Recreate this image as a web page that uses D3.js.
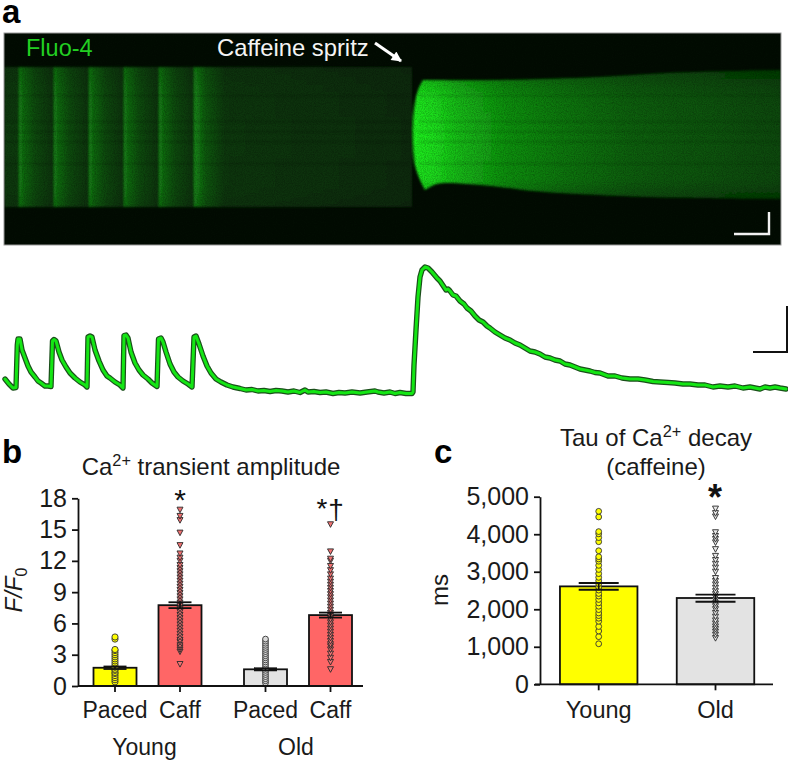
<!DOCTYPE html>
<html><head><meta charset="utf-8">
<script src="https://cdn.jsdelivr.net/npm/d3@7"></script>
<style>html,body{margin:0;padding:0;background:#fff}svg{display:block}text{font-family:"Liberation Sans",Arial,sans-serif;fill:#1a1a1a}</style>
</head><body><svg id="c" width="788" height="761"></svg>
<script>
// ---- panel a: trace (frames, fluorescence amplitude in arbitrary units)
const traceFrame=[1,5,9,12,13.3,14,16,18,21,24,27,31,34,37,41,44,47,48.5,50,52,55,58,62,66,71,76,81,83,84,86,88,91,95,99,103,106,111,116,119,120,122,124,127,131,135,139,144,148,153,154.5,157,159,162,166,170,174,179,184,188,190,192,195,199,203,207,212,217,223,229,
236,242,248,254,260,266,272,278,284,290,296,301,304,310,316,322,329,335,341,348,356,363,371,374,380,386,391,396,402,408,
409,410,412,414,416,418,421,424,428,433,436,438,442,444,446,449,452,456,460,463,467,471,475,479,483,486,491,496,501,506,511,516,521,526,531,536,541,546,551,556,561,566,571,576,581,586,591,596,604,611,618,626,634,641,649,656,664,671,679,686,694,701,709,716,724,731,739,746,751,756,761,766,771,776,782];
const traceAmp=[16,11,7,7.5,50,56,56,45,37,29,23,18,14,12,9,9,8.5,54,55.5,54,43,35,28,22,17,13,10,8,58,59,58,45,34,25,19,17,13,10,7,59.5,60,57,43,32,25,20,16,12,8.5,56,57,53,43,31,23,18,14,11,8,58,59,51,39,29,22,16,13,10,8,
6.5,5,5.5,4,4.5,3.5,4.5,4,3,4,2.5,5,3,3.5,2.5,3,1.5,2.5,2,3,2,3,4,3,2,3,1.5,2.5,1.5,1.5,
3,30,65,98,118,125,128,127,123,117,114,111,105,106,104,100,99,94,91,87,84,79,75,73,69,67,63,60,57,55,52,50,47,44,43,41,38,37,35,34,31,30,28,26,25,24,22.5,22,19,19,17,16,16,15,13.5,13,12.5,12,11,11,10,10,8,9,8,9,7,8,7,6,8,7,8,7,6];
// fibre shape in line-scan image (frame, position along cell)
const fibreLeftFrame=[419,414,410,409,411,416,421];
const fibreLeftPos=[47,57,77,107,132,147,157];
const fibreTopFrame=[419,496,596,663,777];
const fibreTopPos=[47,47,44,40,37];
const fibreBottomFrame=[777,663,596,529,496,463,433,421];
const fibreBottomPos=[166,164.5,162,158,154,151,151,157];
const paceFrames=[15,50,85,120,155,190];
const restFrame=408;
const streakPos=[62,88,98,108,130];
// ---- panel b
const bGroups=["Young","Old"];
const bConds=["Paced","Caff"];
const bMeans=[1.75,7.75,1.6,6.8];
const bErr=[0.12,0.28,0.1,0.24];
const bFill=["#ffff00","#ff6666","#e3e3e3","#ff6666"];
const bTicks=[0,3,6,9,12,15,18];
const youngPaced=[0.4,0.6,0.8,1,1.2,1.3,1.5,1.6,1.8,2,2.2,2.4,2.6,2.8,3,3.2,3.4,3.5,4.5,4.7];
const youngCaff=[2.1,3.3,3.5,3.7,3.9,4.2,4.4,4.7,5,5.3,5.6,5.9,6.2,6.5,6.8,7.1,7.4,7.7,8,8.3,8.6,8.9,9.2,9.5,9.8,10.1,10.4,10.7,11,11.3,11.6,12,12.3,12.7,13.5,14.7,15.9,16.3,16.9];
const oldPaced=[0.3,0.5,0.7,0.9,1.1,1.3,1.5,1.7,1.9,2.1,2.3,2.5,2.7,2.9,3.1,3.3,3.5,3.7,3.9,4.1,4.3,4.5];
const oldCaff=[1.6,2.3,2.7,3.1,3.5,3.8,4,4.3,4.6,4.9,5.2,5.5,5.8,6.1,6.4,6.7,7,7.3,7.6,7.9,8.2,8.5,8.8,9.1,9.4,9.7,10,10.3,10.7,11.1,11.5,12,12.2,12.9,15.5];
// ---- panel c
const cCats=["Young","Old"];
const cMeans=[2610,2300];
const cErrLow=[2520,2200];
const cErrHigh=[2700,2390];
const cFill=["#ffff00","#e3e3e3"];
const cTicks=[0,1000,2000,3000,4000,5000];
const tauYoung=[1080,1270,1420,1540,1680,1760,1830,1900,1990,2080,2170,2260,2350,2420,2510,2590,2680,2760,2850,2950,3060,3170,3280,3340,3400,3560,3800,3910,4010,4070,4460,4610];
const tauOld=[1230,1320,1400,1470,1540,1620,1700,1800,1900,2000,2080,2160,2240,2320,2400,2480,2570,2660,2750,2830,3000,3110,3210,3310,3420,3600,3780,3870,3950,4050,4470,4560,4680];

const svg=d3.select("#c"), defs=svg.append("defs");
const FONT=24, TICK=25;
const tX=d3.scaleLinear().domain([0,784]).range([4,788]);
const posY=d3.scaleLinear().domain([0,212]).range([33,245]);
const ampY=d3.scaleLinear().domain([0,130]).range([395,265]);

// ---------- Panel a image
defs.append("clipPath").attr("id","imgClip").append("rect").attr("x",4).attr("y",33).attr("width",777).attr("height",212);
function grad(id,stops,vertical){const g=defs.append("linearGradient").attr("id",id);
  if(vertical)g.attr("x1",0).attr("x2",0).attr("y1",0).attr("y2",1);
  g.selectAll("stop").data(stops).join("stop").attr("offset",d=>d[0]).attr("stop-color",d=>d[1]).attr("stop-opacity",d=>d[2]===undefined?1:d[2]);}
grad("band",[[0,"#158a15"],[0.1,"#116c11"],[0.45,"#0c4a0c"],[1,"#083208"]]);
grad("rest",[[0,"#158a15"],[0.05,"#0f5a0f"],[0.14,"#0a380a"],[1,"#082c08"]]);
grad("fibre",[[0,"#1cf01c"],[0.06,"#1ce01c"],[0.12,"#16c016"],[0.25,"#109410"],[0.4,"#0d7a0d"],[0.6,"#0a600a"],[1,"#084a08"]]);
grad("edgeShade",[[0,"#021002",0.3],[0.2,"#021002",0.05],[0.5,"#021002",0],[0.85,"#021002",0.05],[1,"#021002",0.3]],true);
const blur=defs.append("filter").attr("id","soft").attr("x","-5%").attr("y","-5%").attr("width","110%").attr("height","110%");
blur.append("feGaussianBlur").attr("stdDeviation",0.9);
const blurS=defs.append("filter").attr("id","soft2").attr("x","-5%").attr("y","-300%").attr("width","110%").attr("height","700%");
blurS.append("feGaussianBlur").attr("stdDeviation",1);
const grain=defs.append("filter").attr("id","grain").attr("x",0).attr("y",0).attr("width","100%").attr("height","100%");
grain.append("feTurbulence").attr("type","fractalNoise").attr("baseFrequency",0.9).attr("numOctaves",2).attr("seed",4);
grain.append("feColorMatrix").attr("values","0 0 0 0 0  0 0 0 0 0  0 0 0 0 0  1.6 0 0 0 -0.55");

const img=svg.append("g").attr("clip-path","url(#imgClip)");
img.append("rect").attr("x",4).attr("y",33).attr("width",777).attr("height",212).attr("fill","#020c02");
const cell=img.append("g").attr("filter","url(#soft)");
const bandTop=posY(34), bandBot=posY(174);
cell.append("rect").attr("x",tX(0)).attr("y",bandTop).attr("width",tX(paceFrames[0])-tX(0)).attr("height",bandBot-bandTop).attr("fill","#0a3a0a");
const edges=paceFrames.concat([restFrame]);
cell.selectAll("rect.b").data(paceFrames).join("rect").attr("class","b")
  .attr("x",d=>tX(d)).attr("y",bandTop)
  .attr("width",(d,i)=>tX(edges[i+1])-tX(d)+(i<5?0.5:0)).attr("height",bandBot-bandTop)
  .attr("fill",(d,i)=>i<5?"url(#band)":"url(#rest)");
const fibreEdge=d3.line().x(d=>tX(d[0])).y(d=>posY(d[1])).curve(d3.curveCatmullRom);
const rev=fibreLeftFrame.map((f,i)=>[f,fibreLeftPos[i]]).reverse();
const topPts=fibreTopFrame.map((f,i)=>[f,fibreTopPos[i]]);
const botPts=fibreBottomFrame.map((f,i)=>[f,fibreBottomPos[i]]);
const dPath=fibreEdge(rev)+"L"+fibreEdge(topPts).slice(1)+"L"+fibreEdge(botPts).slice(1)+"Z";
defs.append("clipPath").attr("id","fibreClip").append("path").attr("d",dPath);
cell.append("path").attr("d",dPath).attr("fill","url(#fibre)");
cell.append("path").attr("d",dPath).attr("fill","url(#edgeShade)");
cell.append("rect").attr("x",tX(0)).attr("y",bandTop).attr("width",tX(restFrame)-tX(0)).attr("height",bandBot-bandTop).attr("fill","url(#edgeShade)").attr("opacity",0.5);
img.append("g").attr("clip-path","url(#fibreClip)").selectAll("rect").data(streakPos).join("rect")
  .attr("x",tX(415)).attr("y",d=>posY(d)).attr("width",tX(784)-tX(415)).attr("height",1.4)
  .attr("fill","#042004").attr("opacity",0.22).attr("filter","url(#soft2)");
img.append("g").selectAll("rect").data(streakPos).join("rect")
  .attr("x",tX(0)).attr("y",d=>posY(d)).attr("width",tX(405)-tX(0)).attr("height",1.4)
  .attr("fill","#021002").attr("opacity",0.18).attr("filter","url(#soft2)");
img.append("rect").attr("x",4).attr("y",33).attr("width",777).attr("height",212).attr("filter","url(#grain)").attr("opacity",0.3);
svg.append("rect").attr("x",4).attr("y",33).attr("width",777).attr("height",212).attr("fill","none").attr("stroke","#9a9a9a").attr("stroke-width",1);

svg.append("text").attr("x",26).attr("y",56).attr("font-size",23.5).style("fill","#22cf22").text("Fluo-4");
svg.append("text").attr("x",217).attr("y",56).attr("font-size",23.8).style("fill","#f4f4f4").text("Caffeine spritz");
defs.append("marker").attr("id","ah").attr("viewBox","0 0 10 10").attr("refX",9).attr("refY",5).attr("markerWidth",4.2).attr("markerHeight",3.4).attr("orient","auto")
  .append("path").attr("d","M0,0L10,5L0,10Z").attr("fill","#fff");
svg.append("line").attr("x1",375).attr("y1",43).attr("x2",401).attr("y2",61).attr("stroke","#fff").attr("stroke-width",3).attr("marker-end","url(#ah)");
svg.append("path").attr("d","M734,234H769V212").attr("fill","none").attr("stroke","#f2f2f2").attr("stroke-width",2.4);

// ---------- Panel a trace
const traceData=traceFrame.map((f,i)=>[f,traceAmp[i]]);
const traceLine=d3.line().x(d=>tX(d[0])).y(d=>ampY(d[1]));
const tg=svg.append("g").attr("fill","none").attr("stroke-linejoin","round").attr("stroke-linecap","round");
tg.append("path").attr("d",traceLine(traceData)).attr("stroke","#1a4f1a").attr("stroke-width",5.4);
tg.append("path").attr("d",traceLine(traceData)).attr("stroke","#14e614").attr("stroke-width",3);
svg.append("path").attr("d","M753,352H787V306").attr("fill","none").attr("stroke","#111").attr("stroke-width",2);

// ---------- helpers
function sup(sel,before,s,after){sel.append("tspan").text(before);
  sel.append("tspan").attr("dy",-9).attr("font-size",FONT*0.68).text(s);
  sel.append("tspan").attr("dy",9).text(after);}
function letter(t,x,y){svg.append("text").attr("x",x).attr("y",y).attr("font-size",33).attr("font-weight","bold").style("fill","#000").text(t);}
letter("a",2,23);letter("b",2,463);letter("c",434,463);
function axisStyle(g){g.selectAll("path,line").attr("stroke","#111").attr("stroke-width",1.8);g.selectAll("text").attr("font-size",TICK).attr("font-family","Liberation Sans").style("fill","#1a1a1a");}
const triangle="M-3,-2.6L3,-2.6L0,3Z";
function bars(g,xs,vals,fills,w,y){g.selectAll("rect.bar").data(vals).join("rect").attr("class","bar")
  .attr("x",(d,i)=>xs[i]-w/2).attr("y",d=>y(d)).attr("width",w).attr("height",d=>y(0)-y(d))
  .attr("fill",(d,i)=>fills[i]).attr("stroke","#111").attr("stroke-width",1.8);}
function errs(g,xs,lo,hi,cap,y){const e=g.selectAll("g.e").data(xs).join("g").attr("class","e").attr("stroke","#111").attr("stroke-width",1.8);
  e.append("line").attr("x1",d=>d).attr("x2",d=>d).attr("y1",(d,i)=>y(lo[i])).attr("y2",(d,i)=>y(hi[i]));
  e.append("line").attr("x1",d=>d-cap/2).attr("x2",d=>d+cap/2).attr("y1",(d,i)=>y(lo[i])).attr("y2",(d,i)=>y(lo[i]));
  e.append("line").attr("x1",d=>d-cap/2).attr("x2",d=>d+cap/2).attr("y1",(d,i)=>y(hi[i])).attr("y2",(d,i)=>y(hi[i]));}
function dots(g,x,vals,fill,r){g.append("g").selectAll("circle").data(vals).join("circle").attr("cx",x).attr("cy",d=>d).attr("r",r)
  .attr("fill",fill).attr("stroke","#333").attr("stroke-width",0.9);}
function tris(g,x,vals,fill){g.append("g").selectAll("path").data(vals).join("path").attr("d",triangle)
  .attr("transform",d=>`translate(${x},${d})`).attr("fill",fill).attr("stroke","#2a2a2a").attr("stroke-width",0.9);}

// ---------- Panel b
const bY=d3.scaleLinear().domain([0,18]).range([686,498.3]);
const outer=d3.scalePoint().domain(bGroups).range([147.5,298]);
const inner=d3.scalePoint().domain(bConds).range([-32.5,32.5]);
const bX=[];bGroups.forEach(g=>bConds.forEach(c=>bX.push(outer(g)+inner(c))));
const gb=svg.append("g");
bars(gb,bX,bMeans,bFill,43,bY);
dots(gb,bX[0],youngPaced.map(bY),"#ffff00",3.1);
tris(gb,bX[1],youngCaff.map(bY),"#f27272");
dots(gb,bX[2],oldPaced.map(bY),"#d9d9d9",2.9);
tris(gb,bX[3],oldCaff.map(bY),"#f27272");
errs(gb,bX,bMeans.map((m,i)=>m-bErr[i]),bMeans.map((m,i)=>m+bErr[i]),23,bY);
const bAxisY=svg.append("g").attr("transform","translate(78,0)").call(d3.axisLeft(bY).tickValues(bTicks).tickSize(6).tickPadding(5).tickSizeOuter(0));
axisStyle(bAxisY);
const bBase=svg.append("g").attr("transform","translate(0,686)");
bBase.append("line").attr("x1",78).attr("x2",363).attr("stroke","#111").attr("stroke-width",1.8);
bBase.selectAll("line.t").data(bX).join("line").attr("class","t").attr("x1",d=>d).attr("x2",d=>d).attr("y1",0).attr("y2",6).attr("stroke","#111").attr("stroke-width",1.8);
const condLabels=bGroups.flatMap(g=>bConds.map(c=>c));
svg.selectAll("text.cond").data(condLabels).join("text").attr("class","cond").attr("x",(d,i)=>bX[i]).attr("y",718).attr("text-anchor","middle").attr("font-size",23).text(d=>d);
svg.selectAll("text.grp").data(bGroups).join("text").attr("class","grp").attr("x",d=>outer(d)-(d==="Young"?3:2)).attr("y",755).attr("text-anchor","middle").attr("font-size",23).text(d=>d);
const bT=svg.append("text").attr("x",211).attr("y",475).attr("text-anchor","middle").attr("font-size",FONT);
sup(bT,"Ca","2+"," transient amplitude");
const yl=svg.append("text").attr("transform","translate(22,590) rotate(-90)").attr("text-anchor","middle").attr("font-size",24);
yl.append("tspan").attr("font-style","italic").text("F/F");
yl.append("tspan").attr("dy",5).attr("font-size",16).text("0");
svg.append("text").attr("x",180).attr("y",510).attr("text-anchor","middle").attr("font-size",30).style("fill","#111").text("*");
svg.append("text").attr("x",322).attr("y",518).attr("text-anchor","middle").attr("font-size",28).style("fill","#111").text("*");
svg.append("text").attr("x",336).attr("y",519).attr("text-anchor","middle").attr("font-size",28).style("fill","#111").text("†");

// ---------- Panel c
const cY=d3.scaleLinear().domain([0,5000]).range([684.3,496.7]);
const cXs=d3.scalePoint().domain(cCats).range([598.7,715.5]);
const cX=cCats.map(cXs);
const gc=svg.append("g");
bars(gc,cX,cMeans,cFill,77.5,cY);
dots(gc,cX[0],tauYoung.map(cY),"#ffff00",2.9);
tris(gc,cX[1],tauOld.map(cY),"#e8e8e8");
errs(gc,cX,cErrLow,cErrHigh,40,cY);
const cAxisY=svg.append("g").attr("transform","translate(540,0)").call(d3.axisLeft(cY).tickValues(cTicks).tickFormat(d3.format(",")).tickSize(6).tickPadding(5).tickSizeOuter(0));
axisStyle(cAxisY);
const cBase=svg.append("g").attr("transform","translate(0,684.3)");
cBase.append("line").attr("x1",535).attr("x2",773).attr("stroke","#111").attr("stroke-width",1.8);
cBase.selectAll("line.t").data(cX).join("line").attr("class","t").attr("x1",d=>d).attr("x2",d=>d).attr("y1",0).attr("y2",6).attr("stroke","#111").attr("stroke-width",1.8);
svg.selectAll("text.ccat").data(cCats).join("text").attr("class","ccat").attr("x",d=>cXs(d)).attr("y",718).attr("text-anchor","middle").attr("font-size",23.5).text(d=>d);
const cT=svg.append("text").attr("x",656).attr("y",446).attr("text-anchor","middle").attr("font-size",FONT);
sup(cT,"Tau of Ca","2+"," decay");
svg.append("text").attr("x",656).attr("y",475).attr("text-anchor","middle").attr("font-size",FONT).text("(caffeine)");
svg.append("text").attr("transform","translate(448,590) rotate(-90)").attr("text-anchor","middle").attr("font-size",24).text("ms");
svg.append("text").attr("x",715).attr("y",510).attr("text-anchor","middle").attr("font-size",36).attr("font-weight","bold").style("fill","#111").text("*");
</script></body></html>
